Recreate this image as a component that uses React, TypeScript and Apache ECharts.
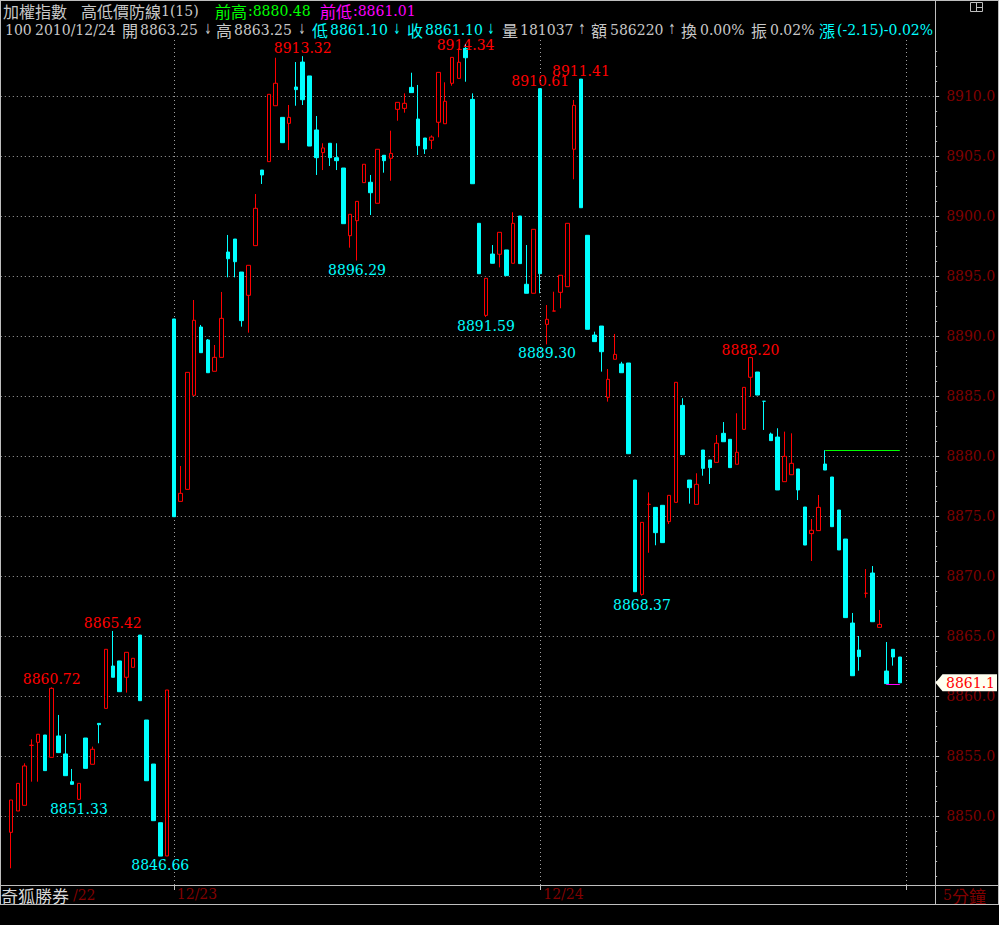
import React, { useEffect, useRef } from 'react';
import * as echarts from 'echarts';

// 5-minute bars: [open, close, lowest, highest]
const bars1222: number[][] = [
  [8848.64, 8851.33, 8845.64, 8851.33],
  [8850.42, 8852.72, 8850.42, 8852.72],
  [8850.89, 8854.17, 8850.89, 8854.39],
  [8855.89, 8855.89, 8852.86, 8856.39],
  [8856.14, 8856.81, 8852.86, 8856.81],
  [8856.75, 8853.78, 8853.78, 8856.75],
  [8854.89, 8860.64, 8854.89, 8860.72],
  [8856.67, 8855.28, 8855.28, 8858.42],
  [8855.17, 8853.36, 8853.36, 8856.83],
  [8852.86, 8852.64, 8852.64, 8853.92],
  [8851.39, 8852.72, 8851.33, 8852.72],
  [8856.5, 8853.97, 8853.97, 8856.5],
  [8854.31, 8855.56, 8854.31, 8855.78],
  [8857.72, 8857.61, 8856.06, 8857.72],
  [8858.97, 8863.89, 8858.97, 8863.89],
  [8862.5, 8861.56, 8861.56, 8865.42],
  [8862.92, 8860.36, 8860.36, 8862.92],
  [8861.56, 8863.64, 8860.28, 8863.64],
  [8862.39, 8863.14, 8862.39, 8863.14],
  [8865.08, 8859.61, 8859.61, 8865.08],
  [8858.0, 8852.94, 8852.94, 8858.0],
  [8854.33, 8849.61, 8849.61, 8854.33],
  [8849.44, 8846.66, 8846.66, 8849.44],
  [8846.67, 8860.5, 8846.67, 8860.5],
];

const bars1223: number[][] = [
  [8891.42, 8874.94, 8874.94, 8891.42],
  [8876.22, 8876.89, 8876.22, 8879.17],
  [8877.22, 8886.97, 8877.22, 8886.97],
  [8885.06, 8891.31, 8885.06, 8893.0],
  [8890.75, 8888.61, 8888.61, 8890.92],
  [8889.67, 8886.94, 8886.94, 8889.75],
  [8887.06, 8888.22, 8887.06, 8889.25],
  [8888.22, 8891.47, 8888.22, 8893.67],
  [8897.0, 8896.44, 8894.89, 8898.42],
  [8898.08, 8896.19, 8894.89, 8898.08],
  [8895.33, 8891.28, 8890.78, 8895.33],
  [8893.39, 8895.89, 8890.28, 8895.89],
  [8897.53, 8900.64, 8897.53, 8901.83],
  [8903.83, 8903.42, 8902.67, 8903.83],
  [8904.53, 8910.14, 8904.53, 8910.14],
  [8909.19, 8911.06, 8909.19, 8913.19],
  [8908.22, 8906.11, 8906.11, 8908.22],
  [8907.72, 8908.22, 8905.5, 8909.25],
  [8910.75, 8910.53, 8909.19, 8912.83],
  [8912.83, 8909.69, 8909.25, 8913.32],
  [8911.67, 8905.83, 8905.83, 8911.67],
  [8907.17, 8904.86, 8903.42, 8908.33],
  [8905.28, 8905.67, 8903.83, 8906.06],
  [8906.06, 8904.86, 8904.17, 8906.06],
  [8904.86, 8904.61, 8903.83, 8906.06],
  [8904.0, 8899.36, 8899.36, 8904.0],
  [8898.36, 8900.14, 8897.36, 8900.14],
  [8899.61, 8901.22, 8896.29, 8901.22],
  [8902.78, 8904.31, 8902.78, 8904.31],
  [8902.81, 8901.94, 8900.08, 8903.42],
  [8901.06, 8905.56, 8901.06, 8905.56],
  [8905.06, 8904.61, 8903.61, 8905.06],
  [8904.81, 8905.22, 8902.94, 8907.11],
  [8908.89, 8909.47, 8907.94, 8909.47],
  [8908.97, 8909.39, 8908.61, 8910.22],
  [8910.72, 8910.28, 8910.28, 8911.94],
  [8908.08, 8905.86, 8905.08, 8910.92],
  [8906.5, 8905.58, 8905.17, 8906.5],
  [8906.31, 8906.58, 8905.58, 8906.72],
  [8907.81, 8911.97, 8906.56, 8911.97],
  [8907.69, 8909.56, 8907.69, 8911.14],
  [8911.06, 8913.22, 8910.86, 8913.22],
  [8911.47, 8912.81, 8911.47, 8913.97],
  [8913.97, 8913.19, 8911.19, 8914.34],
  [8909.72, 8902.69, 8902.69, 8910.22],
  [8899.39, 8895.19, 8895.19, 8899.39],
  [8891.72, 8894.81, 8891.59, 8894.81],
  [8896.83, 8896.06, 8896.06, 8897.58],
  [8896.81, 8898.64, 8895.72, 8898.64],
  [8897.17, 8895.03, 8895.03, 8897.17],
  [8896.06, 8899.39, 8896.06, 8900.31],
  [8900.0, 8896.03, 8896.03, 8900.0],
  [8894.31, 8893.56, 8893.56, 8897.58],
  [8893.56, 8898.89, 8893.56, 8898.89],
];

const bars1224: number[][] = [
  [8910.61, 8895.19, 8893.56, 8910.61],
  [8890.97, 8891.39, 8889.3, 8892.58],
  [8892.08, 8892.08, 8892.08, 8893.69],
  [8893.64, 8895.06, 8892.31, 8895.06],
  [8894.11, 8899.39, 8894.11, 8899.39],
  [8905.56, 8909.22, 8903.06, 8909.67],
  [8911.41, 8900.69, 8900.69, 8911.41],
  [8898.39, 8890.56, 8890.56, 8898.39],
  [8890.08, 8889.53, 8889.53, 8890.36],
  [8890.83, 8888.69, 8887.03, 8890.83],
  [8884.89, 8886.39, 8884.53, 8887.25],
  [8888.06, 8888.47, 8888.06, 8890.17],
  [8887.67, 8886.94, 8886.94, 8887.85],
  [8887.75, 8880.19, 8880.19, 8887.75],
  [8878.0, 8868.69, 8868.69, 8878.0],
  [8868.47, 8874.47, 8868.37, 8874.47],
  [8875.97, 8875.97, 8871.94, 8876.97],
  [8875.72, 8873.61, 8872.56, 8875.72],
  [8875.89, 8872.78, 8872.78, 8875.89],
  [8874.53, 8876.72, 8874.33, 8876.72],
  [8876.14, 8886.14, 8876.14, 8886.14],
  [8884.22, 8880.11, 8880.11, 8884.81],
  [8878.0, 8877.36, 8876.03, 8878.0],
  [8875.97, 8877.64, 8875.97, 8878.56],
  [8880.5, 8878.97, 8878.36, 8880.5],
  [8879.67, 8879.03, 8877.67, 8879.67],
  [8879.47, 8881.06, 8879.47, 8881.75],
  [8881.89, 8881.19, 8881.19, 8882.83],
  [8881.39, 8879.03, 8879.03, 8881.39],
  [8879.31, 8880.31, 8879.31, 8883.56],
  [8882.22, 8885.72, 8882.22, 8885.72],
  [8886.56, 8888.2, 8884.94, 8888.2],
  [8887.0, 8885.08, 8885.08, 8887.0],
  [8884.56, 8884.56, 8882.17, 8884.56],
  [8881.83, 8881.28, 8881.28, 8881.95],
  [8881.58, 8877.17, 8877.17, 8882.31],
  [8877.86, 8879.97, 8877.86, 8882.03],
  [8878.44, 8879.39, 8878.44, 8881.89],
  [8878.92, 8877.17, 8876.33, 8878.92],
  [8875.75, 8872.58, 8872.58, 8875.75],
  [8873.53, 8873.81, 8871.25, 8874.75],
  [8873.78, 8875.72, 8873.78, 8876.75],
  [8879.33, 8878.83, 8878.83, 8880.48],
  [8878.25, 8874.11, 8874.11, 8878.25],
  [8875.5, 8872.17, 8872.17, 8875.5],
  [8873.08, 8866.53, 8866.53, 8873.08],
  [8866.08, 8861.69, 8861.69, 8866.92],
  [8863.83, 8863.28, 8862.11, 8865.0],
  [8868.56, 8868.56, 8868.19, 8870.58],
  [8870.25, 8866.19, 8866.19, 8870.83],
  [8865.72, 8865.97, 8865.72, 8867.17],
  [8862.08, 8861.03, 8861.01, 8864.5],
  [8863.89, 8863.25, 8862.53, 8863.89],
  [8863.25, 8861.1, 8861.1, 8863.25],
];

const priceTicks = [8850, 8855, 8860, 8865, 8870, 8875, 8880, 8885, 8890, 8895, 8900, 8905, 8910];
const minorStep = 1.25;

// 高低價防線
const prevHigh = 8880.48;
const prevHighFromBar = 120;
const prevLow = 8861.01;
const prevLowFromBar = 129;

// bars whose high / low gets a price label
const highLabelBars = [6, 15, 43, 67, 78, 84, 109];
const lowLabelBars = [10, 22, 51, 70, 79, 93];

// quote line figures
const volume = '181037';
const amount = '586220';
const turnover = '0.00%';
const amplitude = '0.02%';
const change = '(-2.15)-0.02%';

const sessionTimes: string[] = (() => {
  const out: string[] = [];
  for (let m = 9 * 60 + 5; m <= 13 * 60 + 30; m += 5) {
    out.push(`${String(Math.floor(m / 60)).padStart(2, '0')}:${String(m % 60).padStart(2, '0')}`);
  }
  return out;
})();

const bars = [...bars1222, ...bars1223, ...bars1224];
const lead = 1; // one empty slot before the first bar
const trail = 5;
const categories: string[] = [
  '',
  ...sessionTimes.slice(sessionTimes.length - bars1222.length).map((t) => `12/22 ${t}`),
  ...sessionTimes.map((t) => `12/23 ${t}`),
  ...sessionTimes.map((t) => `12/24 ${t}`),
  ...Array.from({ length: trail }, (_, i) => ' '.repeat(i + 1)),
];
const dayStarts = [lead + bars1222.length, lead + bars1222.length + bars1223.length, lead + bars.length];
const labelledDayStarts = dayStarts.slice(0, 2);

const lastBar = bars[bars.length - 1];

const NUM_FONT = '"DejaVu Serif", "Noto Sans CJK TC", serif';
const CJK_FONT = '"Noto Sans CJK TC", sans-serif';
const ARROW_FONT = '"DejaVu Sans", sans-serif';
const GRAY = '#c8c8c8';
const FRAME = '#bebebe';
const DARK_RED = '#800000';
const RED = '#ff0000';
const CYAN = '#00ffff';
const GRID_DOT = '#a0a0a0';

const CAT_W = 6.785;
const GRID_LEFT = 0.815;
const GRID_TOP = 38;
const GRID_BOTTOM_Y = 885;
const PX_PER_POINT = 12;
const Y_REF = 8910;
const Y_REF_PX = 96;
const LABEL_H = 15;

function txt(x: number, y: number, text: string, fill: string, family: string, size: number, extra: any = {}) {
  return {
    type: 'text',
    x,
    y,
    z: 50,
    silent: true,
    ...extra.el,
    style: {
      text,
      fill,
      fontFamily: family,
      fontSize: size,
      lineHeight: size + 1,
      verticalAlign: 'middle',
      align: 'left',
      ...extra.style,
    },
  };
}

function arrow(cx: number, y: number, ch: string, fill: string) {
  return txt(cx, y, ch, fill, ARROW_FONT, 14, { el: { scaleX: 0.6 }, style: { align: 'center' } });
}

function frameLine(x1: number, y1: number, x2: number, y2: number) {
  return { type: 'line', z: 60, silent: true, shape: { x1, y1, x2, y2 }, style: { stroke: FRAME, lineWidth: 1 } };
}

function buildGraphic(): any[] {
  const f2 = (v: number) => v.toFixed(2);
  const r1 = 10.5;
  const r2 = 29.5;
  return [
    // title row
    txt(3, r1, '加權指數', GRAY, CJK_FONT, 16),
    txt(81, r1, '高低價防線', GRAY, CJK_FONT, 16),
    txt(161, r1, '1(15)', GRAY, NUM_FONT, 14),
    txt(215, r1, '前高', '#00ff00', CJK_FONT, 16),
    txt(248, r1, ':' + f2(prevHigh), '#00ff00', NUM_FONT, 14),
    txt(320, r1, '前低', '#ff00ff', CJK_FONT, 16),
    txt(353, r1, ':' + f2(prevLow), '#ff00ff', NUM_FONT, 14),
    // quote row
    txt(5, r2, '100', GRAY, NUM_FONT, 14),
    txt(35, r2, '2010/12/24', GRAY, NUM_FONT, 14),
    txt(122, r2, '開', GRAY, CJK_FONT, 16),
    txt(140, r2, f2(lastBar[0]), GRAY, NUM_FONT, 14),
    arrow(208, r2, '↓', GRAY),
    txt(216, r2, '高', GRAY, CJK_FONT, 16),
    txt(234, r2, f2(lastBar[3]), GRAY, NUM_FONT, 14),
    arrow(302, r2, '↓', GRAY),
    txt(312, r2, '低', CYAN, CJK_FONT, 16),
    txt(330, r2, f2(lastBar[2]), CYAN, NUM_FONT, 14),
    arrow(397, r2, '↓', CYAN),
    txt(407, r2, '收', CYAN, CJK_FONT, 16),
    txt(425, r2, f2(lastBar[1]), CYAN, NUM_FONT, 14),
    arrow(491, r2, '↓', CYAN),
    txt(502, r2, '量', GRAY, CJK_FONT, 16),
    txt(520, r2, volume, GRAY, NUM_FONT, 14),
    arrow(582, r2, '↑', GRAY),
    txt(591, r2, '額', GRAY, CJK_FONT, 16),
    txt(610, r2, amount, GRAY, NUM_FONT, 14),
    arrow(672, r2, '↑', GRAY),
    txt(681, r2, '換', GRAY, CJK_FONT, 16),
    txt(700, r2, turnover, GRAY, NUM_FONT, 14),
    txt(751, r2, '振', GRAY, CJK_FONT, 16),
    txt(770, r2, amplitude, GRAY, NUM_FONT, 14),
    txt(819, r2, '漲', CYAN, CJK_FONT, 16),
    txt(837, r2, change, CYAN, NUM_FONT, 14),
    // keeps the quote row inside the chart column
    { type: 'rect', z: 55, silent: true, shape: { x: 936, y: 16, width: 62, height: 22 }, style: { fill: '#000' } },
    // window icon
    { type: 'rect', z: 60, silent: true, shape: { x: 970.5, y: 2.5, width: 12, height: 9 }, style: { fill: 'none', stroke: FRAME, lineWidth: 1 } },
    { type: 'line', z: 60, silent: true, shape: { x1: 976.5, y1: 2.5, x2: 976.5, y2: 11.5 }, style: { stroke: FRAME, lineWidth: 1 } },
    { type: 'line', z: 60, silent: true, shape: { x1: 976.5, y1: 7.5, x2: 982.5, y2: 7.5 }, style: { stroke: FRAME, lineWidth: 1 } },
    // footer
    txt(73, 895, '/22', DARK_RED, NUM_FONT, 14),
    txt(1, 895, '奇狐勝券', '#d8d8d8', CJK_FONT, 17),
    txt(943, 895, '5', DARK_RED, NUM_FONT, 14),
    txt(952, 895, '分鐘', DARK_RED, CJK_FONT, 17),
    // frame
    frameLine(0, 0.5, 999, 0.5),
    frameLine(0.5, 0, 0.5, 904),
    frameLine(998.5, 0, 998.5, 904),
    frameLine(935.5, 0, 935.5, 904),
    frameLine(0, 885.5, 999, 885.5),
    frameLine(0, 904.5, 999, 904.5),
  ];
}

function priceTag(y: number): any[] {
  const h = 8.5;
  return [
    {
      type: 'polygon',
      z: 100,
      silent: true,
      shape: { points: [[935.5, y], [942.5, y - h], [997, y - h], [997, y + h], [942.5, y + h]] },
      style: { fill: '#fffff0' },
    },
    txt(946, y + 0.5, lastBar[1].toFixed(1), RED, NUM_FONT, 14, { el: { z: 101 } }),
  ];
}

function buildOption(): any {
  const yMax = Y_REF + (Y_REF_PX - GRID_TOP) / PX_PER_POINT;
  const yMin = Y_REF - (GRID_BOTTOM_Y - Y_REF_PX) / PX_PER_POINT;
  const minorTicks: number[] = [];
  for (let v = priceTicks[0] - 5; v <= yMax; v += minorStep) {
    if (v >= yMin) minorTicks.push(v);
  }

  const candleData: any[] = [['-', '-', '-', '-'], ...bars];

  const labelStyle = { fontFamily: NUM_FONT, fontSize: 14, lineHeight: LABEL_H };
  // pixel row of a price, used only to keep high labels inside the plot
  const rowOf = (v: number) => Y_REF_PX + (Y_REF - v) * PX_PER_POINT;
  const markPoints = [
    ...highLabelBars.map((i) => {
      const fitsAbove = rowOf(bars[i][3]) - LABEL_H >= GRID_TOP;
      return {
        coord: [i + lead, bars[i][3]],
        value: bars[i][3],
        label: fitsAbove
          ? { position: 'top', distance: 0, color: RED, ...labelStyle }
          : { position: 'inside', offset: [0, 1], color: RED, ...labelStyle },
      };
    }),
    ...lowLabelBars.map((i) => ({
      coord: [i + lead, bars[i][2]],
      value: bars[i][2],
      label: { position: 'bottom', distance: 1, color: CYAN, ...labelStyle },
    })),
  ];

  const lastCat = bars.length - 1 + lead;
  const defenceLines = [
    [
      { coord: [prevHighFromBar + lead, prevHigh], lineStyle: { color: '#00ff00', width: 1, type: 'solid' } },
      { coord: [lastCat, prevHigh] },
    ],
    [
      { coord: [prevLowFromBar + lead, prevLow], lineStyle: { color: '#ff00ff', width: 1, type: 'solid' } },
      { coord: [lastCat, prevLow] },
    ],
  ];

  const yCommon = {
    type: 'value',
    position: 'right',
    min: yMin,
    max: yMax,
    offset: -2,
    splitLine: { show: false },
    axisLine: { show: false },
  };

  return {
    animation: false,
    backgroundColor: '#000',
    grid: { left: GRID_LEFT, top: GRID_TOP, width: CAT_W * categories.length, height: GRID_BOTTOM_Y - GRID_TOP },
    xAxis: {
      type: 'category',
      data: categories,
      boundaryGap: true,
      axisLine: { show: false },
      axisTick: {
        show: true,
        alignWithLabel: true,
        interval: (i: number) => dayStarts.includes(i),
        length: 5,
        lineStyle: { color: FRAME },
      },
      axisLabel: {
        interval: (i: number) => labelledDayStarts.includes(i),
        formatter: (v: string) => v.split(' ')[0],
        color: DARK_RED,
        fontFamily: NUM_FONT,
        fontSize: 14,
        align: 'left',
        padding: [0, 0, 0, 3],
        margin: 2,
      },
      splitLine: { show: false },
    },
    yAxis: [
      {
        ...yCommon,
        axisTick: { show: true, customValues: priceTicks, length: 4, lineStyle: { color: FRAME } },
        axisLabel: {
          customValues: priceTicks,
          formatter: (v: number) => v.toFixed(1),
          color: DARK_RED,
          fontFamily: NUM_FONT,
          fontSize: 14,
          margin: 11,
        },
      },
      {
        ...yCommon,
        axisTick: { show: true, customValues: minorTicks, length: 2, lineStyle: { color: FRAME } },
        axisLabel: { show: false },
      },
    ],
    series: [
      {
        type: 'line',
        data: [],
        z: 1,
        silent: true,
        markLine: {
          z: 1,
          silent: true,
          animation: false,
          symbol: ['none', 'none'],
          label: { show: false },
          lineStyle: { color: GRID_DOT, width: 1, type: [1, 3] },
          data: [...priceTicks.map((v) => ({ yAxis: v })), ...dayStarts.map((c) => ({ xAxis: c }))],
        },
      },
      {
        type: 'candlestick',
        data: candleData,
        z: 2,
        barWidth: 4,
        silent: true,
        itemStyle: {
          color: '#000000',
          color0: CYAN,
          borderColor: RED,
          borderColor0: CYAN,
          borderWidth: 1,
        },
        markPoint: {
          silent: true,
          animation: false,
          symbol: 'rect',
          symbolSize: 1,
          itemStyle: { color: 'rgba(0,0,0,0)' },
          label: { show: true, formatter: (p: any) => Number(p.value).toFixed(2) },
          data: markPoints,
        },
        markLine: {
          silent: true,
          animation: false,
          symbol: ['none', 'none'],
          label: { show: false },
          data: defenceLines,
        },
      },
    ],
    graphic: buildGraphic(),
  };
}

export default function App() {
  const ref = useRef<HTMLDivElement>(null);
  useEffect(() => {
    const el = ref.current;
    if (!el) return;
    const chart = echarts.init(el, undefined, { renderer: 'svg' });
    const option = buildOption();
    chart.setOption(option);
    const yTag = chart.convertToPixel({ yAxisIndex: 0 }, lastBar[1]) as number;
    option.graphic = [...option.graphic, ...priceTag(yTag)];
    chart.setOption(option, true);
    return () => chart.dispose();
  }, []);
  return (
    <div style={{ position: 'fixed', left: 0, top: 0, width: 999, height: 925, background: '#000' }}>
      <div ref={ref} style={{ width: 999, height: 925 }} />
    </div>
  );
}
